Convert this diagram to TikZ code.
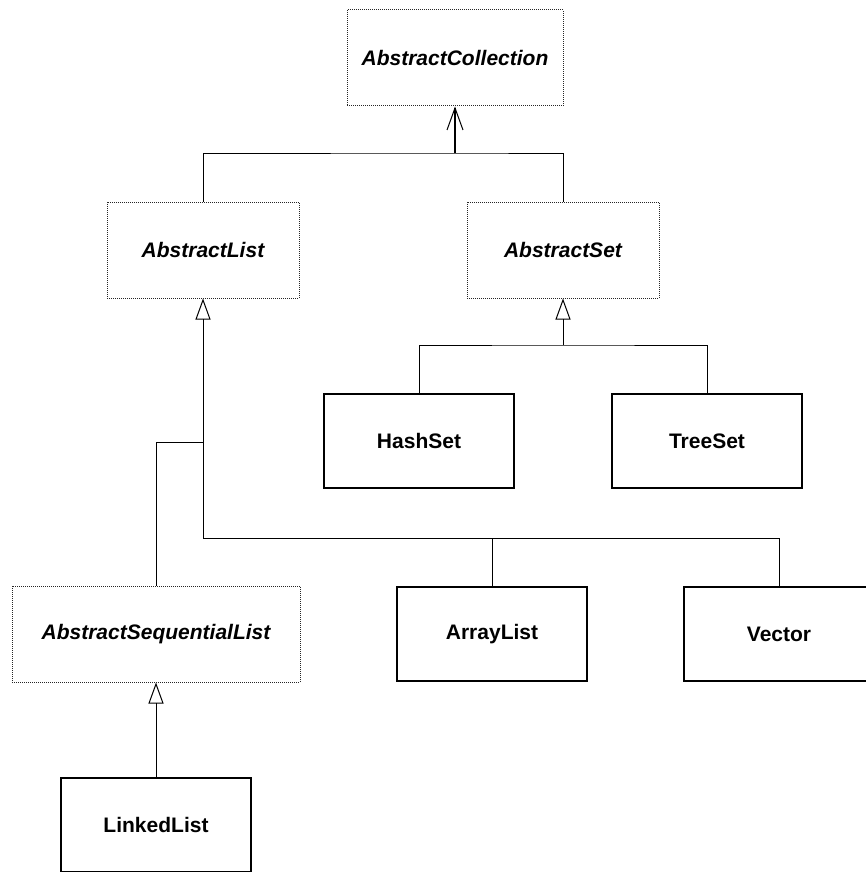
\documentclass[tikz,border=0pt]{standalone}
\usepackage{fontspec}
\setmainfont{Liberation Sans}
\usetikzlibrary{arrows.meta, positioning}

\tikzset{
  absclass/.style={draw=black!85, line width=1pt, dash pattern=on 1pt off 1pt,
    minimum width=192pt, minimum height=96pt, inner sep=0pt,
    font=\fontsize{21}{25}\selectfont\bfseries\itshape},
  concclass/.style={draw, line width=2.2pt,
    minimum width=190pt, minimum height=94pt, inner sep=0pt,
    font=\fontsize{21}{25}\selectfont\bfseries},
  inherit/.style={-{Triangle[open, length=21pt, width=15pt, line width=1pt]}, line width=1pt},
  link/.style={line width=1pt}
}

\begin{document}
\begin{tikzpicture}[x=1pt, y=-1pt]
\useasboundingbox (0,0) rectangle (866,872);
\clip (0,0) rectangle (866,872);

% abstract classes
\node[absclass, minimum width=216pt] (coll) at (455,58) {AbstractCollection};
\node[absclass] (list) at (203,250) {AbstractList};
\node[absclass] (set) at (563,250) {AbstractSet};
\node[absclass, minimum width=288pt] (seq) at (156,634) {AbstractSequentialList};

% concrete classes
\node[concclass] (hash) at (419,441) {HashSet};
\node[concclass] (tree) at (707,441) {TreeSet};
\node[concclass] (arr) at (492,634) {ArrayList};
\node[concclass] (vec) at (779,634) {Vector};
\node[concclass] (linked) at (156,825) {LinkedList};

% collection
\coordinate (hubc) at (455,153);
\draw[link] (list.north) |- (hubc) -| (set.north);
\draw[-{Straight Barb[length=22pt, width=16pt, line width=1pt]}, line width=1.8pt] (hubc) -- (coll.south);

% sets
\coordinate (hubs) at (563,345);
\draw[link] (hash.north) |- (hubs) -| (tree.north);
\draw[inherit] (hubs) -- (set.south);

% lists
\coordinate (hubl) at (203,538);
\coordinate (hubq) at (203,442);
\draw[link] (hubl) -| (vec.north);
\draw[link] (arr.north) -- (arr.north |- hubl);
\draw[link] (seq.north) |- (hubq);
\draw[inherit] (hubl) -- (list.south);

% sequential
\draw[inherit] (linked.north) -- (seq.south);
\end{tikzpicture}
\end{document}
